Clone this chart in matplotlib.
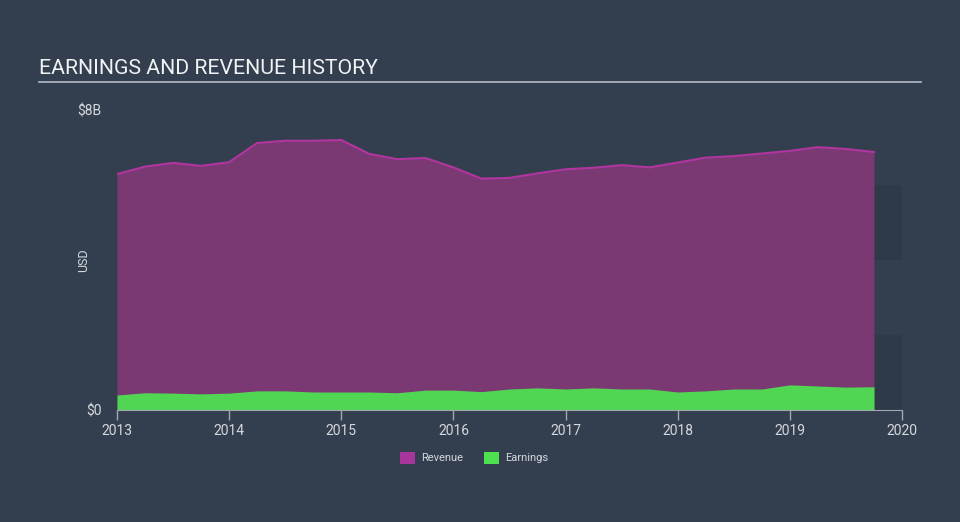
import matplotlib.pyplot as plt
from matplotlib.patches import Rectangle

# quarterly data, USD billions
dates = [2013.0, 2013.25, 2013.5, 2013.75, 2014.0, 2014.25, 2014.5, 2014.75,
         2015.0, 2015.25, 2015.5, 2015.75, 2016.0, 2016.25, 2016.5, 2016.75,
         2017.0, 2017.25, 2017.5, 2017.75, 2018.0, 2018.25, 2018.5, 2018.75,
         2019.0, 2019.25, 2019.5, 2019.75]
revenue = [6.29, 6.49, 6.59, 6.51, 6.61, 7.12, 7.18, 7.18,
           7.20, 6.83, 6.69, 6.72, 6.47, 6.17, 6.19, 6.31,
           6.42, 6.46, 6.53, 6.47, 6.60, 6.73, 6.77, 6.84,
           6.91, 7.01, 6.96, 6.88]
earnings = [0.40, 0.46, 0.45, 0.43, 0.45, 0.51, 0.51, 0.48,
            0.48, 0.48, 0.46, 0.53, 0.53, 0.49, 0.56, 0.59,
            0.56, 0.59, 0.56, 0.56, 0.48, 0.51, 0.56, 0.56,
            0.67, 0.64, 0.61, 0.62]
years = [2013, 2014, 2015, 2016, 2017, 2018, 2019, 2020]
y_ticks = [0, 8]
y_labels = ['$0', '$8B']

bg = '#333f4f'
text_col = '#d5d9de'
rev_fill = '#7b3974'
rev_line = '#b0359f'
earn_col = '#51d653'

plt.rcParams['font.family'] = ['Roboto', 'DejaVu Sans']

fig = plt.figure(figsize=(9.6, 5.22), dpi=100, facecolor=bg)
ax = fig.add_axes([117 / 960, 1 - 410 / 522, (902 - 117) / 960, 300 / 522])
ax.set_facecolor(bg)

# darker bands in the forecast area
for lo, hi in [(0, 2), (4, 6)]:
    ax.add_patch(Rectangle((dates[-1], lo), 2020 - dates[-1], hi - lo,
                           facecolor='#2e3a48', edgecolor='none', zorder=0))

ax.fill_between(dates, 0, revenue, color=rev_fill, lw=0, zorder=2)
ax.plot(dates, revenue, color=rev_line, lw=1.5, zorder=3)
ax.fill_between(dates, 0, earnings, color=earn_col, lw=0, zorder=4)

ax.set_xlim(2013, 2020)
ax.set_ylim(0, 8)
ax.set_xticks(years)
ax.set_xticklabels([str(y) for y in years], color=text_col, fontsize=10)
ax.set_yticks(y_ticks)
ax.set_yticklabels(y_labels, color=text_col, fontsize=10)
ax.tick_params(axis='x', length=7, color='#a0a8b2', width=1, pad=3)
ax.tick_params(axis='y', length=0, pad=11)
for s in ['top', 'right', 'left']:
    ax.spines[s].set_visible(False)
ax.spines['bottom'].set_color('#a0a8b2')
ax.spines['bottom'].set_zorder(5)
ax.set_ylabel('USD', color=text_col, fontsize=9)
ax.yaxis.set_label_coords(-0.034, 0.5)

# title with underline
fig.text(39 / 960, 1 - 68 / 522, 'EARNINGS AND REVENUE HISTORY', color='#f0f2f4',
         fontsize=15.3, va='center', ha='left')
fig.add_artist(plt.Line2D([39 / 960, 921 / 960], [1 - 82 / 522, 1 - 82 / 522],
                          color='#b4bac2', lw=1.2))

# legend
ly = 1 - 458 / 522
for x0, col, lab in [(400, '#a8359b', 'Revenue'), (484, '#4fe04f', 'Earnings')]:
    fig.add_artist(Rectangle((x0 / 960, ly - 6 / 522), 15 / 960, 12 / 522,
                             facecolor=col, edgecolor='none', transform=fig.transFigure))
    fig.text((x0 + 21) / 960, ly, lab, color=text_col, fontsize=8, va='center')

fig.savefig('out.png', dpi=100, facecolor=bg)
